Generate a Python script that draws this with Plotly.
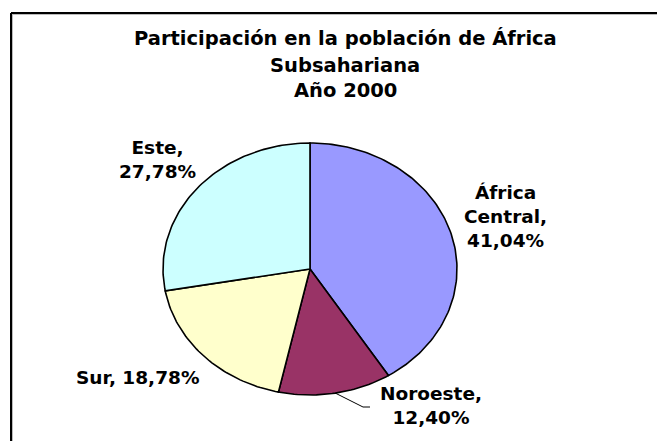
import numpy as np
import plotly.graph_objects as go

# ---- data ----
regions = ["África Central", "Noroeste", "Sur", "Este"]
shares = [41.04, 12.40, 18.78, 27.78]
label_texts = ["África<br>Central,<br>41,04%", "Noroeste,<br>12,40%", "Sur, 18,78%", "Este,<br>27,78%"]
colors = ["#9999FF", "#993366", "#FFFFCC", "#CCFFFF"]
title_lines = ["Participación en la población de África", "Subsahariana", "Año 2000"]

# ---- layout geometry (pixels in the 665x441 window; page body has an 8px margin) ----
OFF = 8
W, H = 665 - OFF, 441 - OFF
CX, CY, RX, RY = 310 - OFF, 269 - OFF, 147, 126
FONT = "DejaVu Sans"

def px(x):
    return (x - OFF) / W

def py(y):
    return 1 - (y - OFF) / H

fig = go.Figure()

total = sum(shares)
start = 0.0
mids = []
for name, v, c in zip(regions, shares, colors):
    frac0 = start / total
    frac1 = (start + v) / total
    t = np.linspace(frac0, frac1, max(int(v * 3), 8)) * 2 * np.pi
    xs = np.concatenate([[0], np.sin(t), [0]])
    ys = np.concatenate([[0], np.cos(t), [0]])
    fig.add_trace(go.Scatter(
        x=xs, y=ys, mode="lines", fill="toself", fillcolor=c,
        line=dict(color="black", width=1.6), name=name,
        hoverinfo="text", text=f"{name}: {v:.2f}%".replace(".", ","),
        showlegend=False))
    mids.append((frac0 + frac1) / 2 * 2 * np.pi)
    start += v

# label positions (window pixel centres)
label_pos = [(505, 217), (431, 405), (137, 377), (157, 159)]
for txt, (lx, ly) in zip(label_texts, label_pos):
    fig.add_annotation(x=px(lx), y=py(ly), xref="paper", yref="paper",
                       text=txt, showarrow=False, xanchor="center", yanchor="middle",
                       font=dict(family=FONT, size=18.5, color="black", weight="bold"),
                       align="center")

# leader line for Noroeste, starting at the slice edge
a = mids[1]
sx, sy = np.sin(a), np.cos(a)
ex, ey = (363 - OFF - CX) / RX, (CY - (407 - OFF)) / RY
fig.add_trace(go.Scatter(x=[sx, ex, (370 - OFF - CX) / RX], y=[sy, ey, ey], mode="lines",
                         line=dict(color="black", width=1), hoverinfo="skip", showlegend=False))

# title lines
for txt, ty in zip(title_lines, [38.5, 65, 91]):
    fig.add_annotation(x=px(345), y=py(ty), xref="paper", yref="paper",
                       text=txt, showarrow=False, xanchor="center", yanchor="middle",
                       font=dict(family=FONT, size=19.5, color="black", weight="bold"))

# chart border (top and left visible)
shapes = [
    dict(type="line", xref="paper", yref="paper", x0=px(11), y0=py(14.5), x1=1, y1=py(14.5),
         line=dict(color="#BBBBBB", width=1)),
    dict(type="line", xref="paper", yref="paper", x0=px(12.5), y0=py(13), x1=px(12.5), y1=0,
         line=dict(color="#BBBBBB", width=1)),
    dict(type="line", xref="paper", yref="paper", x0=px(11), y0=py(13), x1=1, y1=py(13),
         line=dict(color="black", width=2)),
    dict(type="line", xref="paper", yref="paper", x0=px(11), y0=py(13), x1=px(11), y1=0,
         line=dict(color="black", width=2)),
]

fig.update_layout(
    width=W, height=H,
    margin=dict(l=0, r=0, t=0, b=0),
    paper_bgcolor="white", plot_bgcolor="white",
    shapes=shapes,
    xaxis=dict(domain=[0, 1], range=[(0 - CX) / RX, (W - CX) / RX], visible=False, fixedrange=True),
    yaxis=dict(domain=[0, 1], range=[(CY - H) / RY, CY / RY], visible=False, fixedrange=True),
    showlegend=False,
)

fig.write_html("out.html")
